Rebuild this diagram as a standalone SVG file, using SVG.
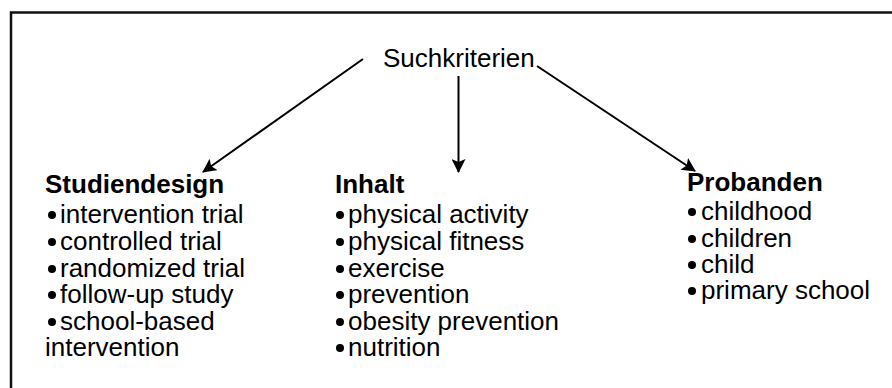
<svg xmlns="http://www.w3.org/2000/svg" width="892" height="388" viewBox="0 0 892 388">
  <defs>
    <marker id="arrowhead" viewBox="0 0 14 14" refX="13" refY="7" markerWidth="14" markerHeight="14" markerUnits="userSpaceOnUse" orient="auto">
      <path d="M0,0 L14,7 L0,14 L3,7 Z" fill="#000"/>
    </marker>
  </defs>
  <style>
    text { font-family: "Liberation Sans", Arial, sans-serif; font-size: 26px; fill: #000; }
    .head { font-weight: bold; }
    .bullet { fill: #000; }
    .edge { stroke: #000; stroke-width: 2; fill: none; marker-end: url(#arrowhead); }
    .frame { stroke: #111; stroke-width: 2.5; fill: none; }
  </style>

  <rect width="892" height="388" fill="#fff"/>
  <!-- outer frame (runs past the right and bottom edges) -->
  <path class="frame" d="M11,400 L11,12.5 L900,12.5"/>

  <g id="root">
    <text x="383" y="67">Suchkriterien</text>
  </g>

  <g id="connectors">
    <line class="edge" x1="363" y1="59" x2="203" y2="172"/>
    <line class="edge" x1="458.5" y1="76" x2="458.5" y2="172"/>
    <line class="edge" x1="537" y1="66" x2="695" y2="171"/>
  </g>

  <g id="studiendesign">
    <text class="head" x="45" y="193">Studiendesign</text>
    <circle class="bullet" cx="52" cy="215" r="4"/>
    <text x="60" y="223">intervention trial</text>
    <circle class="bullet" cx="52" cy="242" r="4"/>
    <text x="60" y="250">controlled trial</text>
    <circle class="bullet" cx="52" cy="269" r="4"/>
    <text x="60" y="277">randomized trial</text>
    <circle class="bullet" cx="52" cy="295" r="4"/>
    <text x="60" y="303">follow-up study</text>
    <circle class="bullet" cx="52" cy="322" r="4"/>
    <text x="60" y="330">school-based</text>
    <text x="45" y="356">intervention</text>
  </g>

  <g id="inhalt">
    <text class="head" x="335" y="193">Inhalt</text>
    <circle class="bullet" cx="340" cy="215" r="4"/>
    <text x="348" y="223">physical activity</text>
    <circle class="bullet" cx="340" cy="242" r="4"/>
    <text x="348" y="250">physical fitness</text>
    <circle class="bullet" cx="340" cy="269" r="4"/>
    <text x="348" y="277">exercise</text>
    <circle class="bullet" cx="340" cy="295" r="4"/>
    <text x="348" y="303">prevention</text>
    <circle class="bullet" cx="340" cy="322" r="4"/>
    <text x="348" y="330">obesity prevention</text>
    <circle class="bullet" cx="340" cy="348" r="4"/>
    <text x="348" y="356">nutrition</text>
  </g>

  <g id="probanden">
    <text class="head" x="687" y="191">Probanden</text>
    <circle class="bullet" cx="692" cy="212" r="4"/>
    <text x="701" y="220">childhood</text>
    <circle class="bullet" cx="692" cy="239" r="4"/>
    <text x="701" y="247">children</text>
    <circle class="bullet" cx="692" cy="265" r="4"/>
    <text x="701" y="273">child</text>
    <circle class="bullet" cx="692" cy="291" r="4"/>
    <text x="701" y="299">primary school</text>
  </g>
</svg>
